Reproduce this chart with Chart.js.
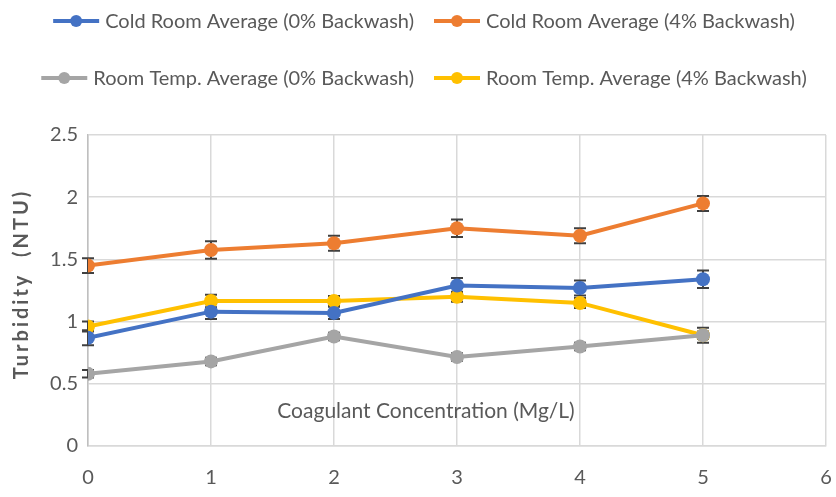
<!DOCTYPE html>
<html>
<head>
<meta charset="utf-8">
<script src="https://cdn.jsdelivr.net/npm/chart.js@4.4.0/dist/chart.umd.min.js"></script>
<style>
  html, body { margin: 0; padding: 0; background: #fff; }
  #wrap { width: 836px; height: 497px; }
</style>
</head>
<body>
<div id="wrap"><canvas id="turbidity-chart"></canvas></div>
<script>
// Data
const concentrations = [0, 1, 2, 3, 4, 5];
const seriesNames = [
    'Cold Room Average (0% Backwash)',
    'Cold Room Average (4% Backwash)',
    'Room Temp. Average (0% Backwash)',
    'Room Temp. Average (4% Backwash)'
];
const coldRoom0 = [0.87, 1.08, 1.07, 1.29, 1.27, 1.34];
const coldRoom4 = [1.45, 1.575, 1.63, 1.75, 1.69, 1.95];
const roomTemp0 = [0.58, 0.68, 0.88, 0.715, 0.80, 0.89];
const roomTemp4 = [0.96, 1.165, 1.165, 1.20, 1.15, 0.89];
const coldRoom0Err = [0.06, 0.06, 0.05, 0.06, 0.06, 0.07];
const coldRoom4Err = [0.06, 0.07, 0.06, 0.07, 0.06, 0.06];
const roomTemp0Err = [0.03, 0.03, 0.03, 0.03, 0.03, 0.03];
const roomTemp4Err = [0.04, 0.05, 0.04, 0.04, 0.04, 0.06];
const yTicks = [0, 0.5, 1, 1.5, 2, 2.5];

const colors = ['#4472C4', '#ED7D31', '#A5A5A5', '#FFC000'];
const values = [coldRoom0, coldRoom4, roomTemp0, roomTemp4];
const errors = [coldRoom0Err, coldRoom4Err, roomTemp0Err, roomTemp4Err];

const fontFamily = "Lato, 'Open Sans', sans-serif";
const textColor = '#595959';

const datasets = values.map((vals, i) => ({
    label: seriesNames[i],
    data: vals.map((v, j) => ({ x: concentrations[j], y: v })),
    errors: errors[i],
    borderColor: colors[i],
    backgroundColor: colors[i],
    borderWidth: 4,
    pointRadius: 7,
    pointHoverRadius: 7,
    pointBorderWidth: 0,
    tension: 0
}));

// Error bars drawn under the markers
const errorBars = {
    id: 'errorBars',
    beforeDatasetsDraw(chart) {
        const ctx = chart.ctx;
        const yScale = chart.scales.y;
        ctx.save();
        ctx.strokeStyle = '#404040';
        ctx.lineWidth = 2;
        chart.data.datasets.forEach((ds, i) => {
            const meta = chart.getDatasetMeta(i);
            meta.data.forEach((pt, j) => {
                const v = ds.data[j].y;
                const e = ds.errors[j];
                const top = yScale.getPixelForValue(v + e);
                const bot = yScale.getPixelForValue(v - e);
                ctx.beginPath();
                ctx.moveTo(pt.x, top);
                ctx.lineTo(pt.x, bot);
                ctx.moveTo(pt.x - 6, top);
                ctx.lineTo(pt.x + 6, top);
                ctx.moveTo(pt.x - 6, bot);
                ctx.lineTo(pt.x + 6, bot);
                ctx.stroke();
            });
        });
        ctx.restore();
    }
};

// Legend in two rows and the two axis titles
const legendAndTitles = {
    id: 'legendAndTitles',
    afterDraw(chart) {
        const ctx = chart.ctx;
        ctx.save();
        ctx.font = '20px ' + fontFamily;
        ctx.textBaseline = 'middle';
        const rows = [[0, 1], [2, 3]];
        const rowY = [21, 78];
        const markW = 46, gapText = 6, gapItem = 20;
        rows.forEach((row, r) => {
            const widths = row.map(i => markW + gapText + ctx.measureText(seriesNames[i]).width);
            const total = widths[0] + widths[1] + gapItem;
            let x = 424 - total / 2;
            row.forEach((i, k) => {
                const y = rowY[r];
                ctx.strokeStyle = colors[i];
                ctx.lineWidth = 4;
                ctx.beginPath();
                ctx.moveTo(x, y);
                ctx.lineTo(x + markW, y);
                ctx.stroke();
                ctx.fillStyle = colors[i];
                ctx.beginPath();
                ctx.arc(x + markW / 2, y, 6, 0, Math.PI * 2);
                ctx.fill();
                ctx.fillStyle = textColor;
                ctx.textAlign = 'left';
                ctx.fillText(seriesNames[i], x + markW + gapText, y + 1);
                x += widths[k] + gapItem;
            });
        });

        // x axis title sits inside the plot
        ctx.textAlign = 'center';
        ctx.fillStyle = textColor;
        ctx.font = '21px ' + fontFamily;
        ctx.fillText('Coagulant Concentration (Mg/L)', 426, 411);

        // y axis title, rotated, letter spaced
        ctx.translate(22, 284);
        ctx.rotate(-Math.PI / 2);
        ctx.font = 'bold 20px ' + fontFamily;
        ctx.letterSpacing = '3px';
        ctx.fillText('Turbidity  (NTU)', 0, 0);
        ctx.restore();
    }
};

const chartCanvas = document.getElementById('turbidity-chart');
const turbidityChart = new Chart(chartCanvas.getContext('2d'), {
    type: 'line',
    data: { datasets },
    options: {
        responsive: true,
        maintainAspectRatio: false,
        animation: false,
        layout: { padding: { top: 135, right: 10, left: 0, bottom: 0 } },
        plugins: {
            legend: { display: false },
            tooltip: { enabled: false }
        },
        scales: {
            x: {
                type: 'linear',
                min: 0,
                max: 6,
                ticks: {
                    stepSize: 1,
                    padding: 20,
                    color: textColor,
                    font: { family: fontFamily, size: 20 }
                },
                grid: { color: '#d9d9d9', lineWidth: 1.5, drawTicks: false },
                border: { color: '#d9d9d9', width: 1.5 },
                afterFit(scale) {
                    scale.height = 51;
                    scale.paddingLeft = 0;
                    scale.paddingRight = 0;
                }
            },
            y: {
                min: 0,
                max: 2.5,
                afterBuildTicks(scale) {
                    scale.ticks = yTicks.map(v => ({ value: v }));
                },
                ticks: {
                    padding: 10,
                    color: textColor,
                    font: { family: fontFamily, size: 20 },
                    callback: v => String(v)
                },
                grid: { color: '#d9d9d9', lineWidth: 1.5, drawTicks: false },
                border: { color: '#bfbfbf', width: 1.5 },
                afterFit(scale) { scale.width = 88; }
            }
        }
    },
    plugins: [errorBars, legendAndTitles]
});
</script>
</body>
</html>
